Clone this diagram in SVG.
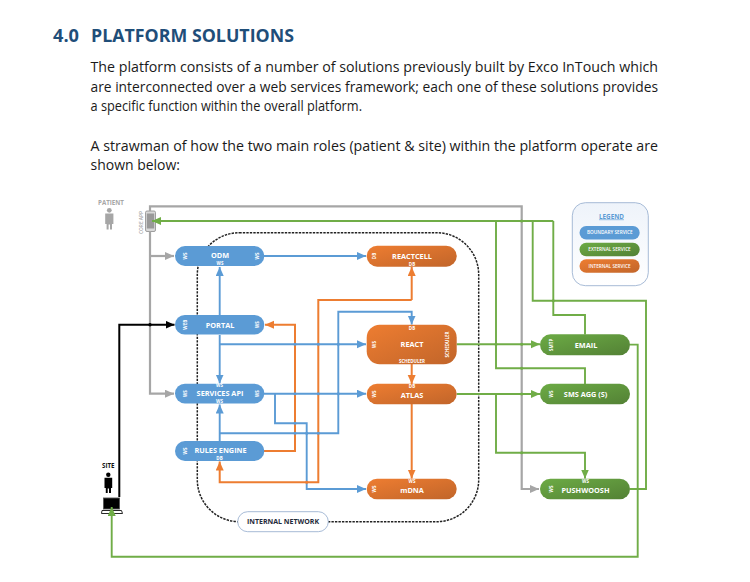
<svg xmlns="http://www.w3.org/2000/svg" width="750" height="582" viewBox="0 0 750 582">
<style>
text{font-family:"Open Sans","Noto Sans","Liberation Sans",sans-serif}
.h{font-size:18.5px;font-weight:700;fill:#1f4e79}
.b{font-size:14px;fill:#1a1a1a}
.c{fill:none;stroke-width:1.9}
.blue{stroke:#5b9bd5}.or{stroke:#ed7d31;stroke-width:2}.gr{stroke:#70ad47}.gy{stroke:#a6a6a6;stroke-width:2.2}.bk{stroke:#000;stroke-width:2}
.n{font-size:7.3px;font-weight:700;fill:#fff;text-anchor:middle}
.s{font-size:4.5px;font-weight:700;fill:#fff;text-anchor:middle}
.l{font-size:4.7px;font-weight:600;fill:#fff;text-anchor:middle}
.pb{fill:#5b9bd5}.po{fill:url(#go)}.pg{fill:url(#gg)}
.j{stroke:none}
</style>
<defs>
<linearGradient id="go" x1="0" y1="0" x2="1" y2="1"><stop offset="0" stop-color="#ee7d31"/><stop offset="1" stop-color="#c1652a"/></linearGradient>
<linearGradient id="gg" x1="0" y1="0" x2="1" y2="1"><stop offset="0" stop-color="#6cab45"/><stop offset="1" stop-color="#538135"/></linearGradient>
<linearGradient id="gl" x1="0" y1="0" x2="0" y2="1"><stop offset="0" stop-color="#eef3fa"/><stop offset="1" stop-color="#fff"/></linearGradient>
<marker id="ab" markerUnits="userSpaceOnUse" markerWidth="10" markerHeight="10" refX="9" refY="4" orient="auto-start-reverse"><path d="M0 0L9 4L0 8Z" fill="#5b9bd5"/></marker>
<marker id="ao" markerUnits="userSpaceOnUse" markerWidth="10" markerHeight="10" refX="9" refY="4" orient="auto-start-reverse"><path d="M0 0L9 4L0 8Z" fill="#ed7d31"/></marker>
<marker id="ag" markerUnits="userSpaceOnUse" markerWidth="10" markerHeight="10" refX="9" refY="4" orient="auto-start-reverse"><path d="M0 0L9 4L0 8Z" fill="#70ad47"/></marker>
<marker id="ay" markerUnits="userSpaceOnUse" markerWidth="10" markerHeight="10" refX="9" refY="4" orient="auto-start-reverse"><path d="M0 0L9 4L0 8Z" fill="#a6a6a6"/></marker>
<marker id="ak" markerUnits="userSpaceOnUse" markerWidth="10" markerHeight="10" refX="9" refY="4" orient="auto-start-reverse"><path d="M0 0L9 4L0 8Z" fill="#000"/></marker>
</defs>
<rect width="750" height="582" fill="#fff"/>
<g id="page-text">
<text class="h" x="53" y="41.5" textLength="26" lengthAdjust="spacingAndGlyphs">4.0</text>
<text class="h" x="91" y="41.5" textLength="203" lengthAdjust="spacingAndGlyphs">PLATFORM SOLUTIONS</text>
<text class="b" x="90.5" y="72" textLength="567.5" lengthAdjust="spacingAndGlyphs">The platform consists of a number of solutions previously built by Exco InTouch which</text>
<text class="b" x="90.5" y="91.5" textLength="567.5" lengthAdjust="spacingAndGlyphs">are interconnected over a web services framework; each one of these solutions provides</text>
<text class="b" x="90.5" y="111" textLength="271.5" lengthAdjust="spacingAndGlyphs">a specific function within the overall platform.</text>
<text class="b" x="90.5" y="150.5" textLength="567.5" lengthAdjust="spacingAndGlyphs">A strawman of how the two main roles (patient &amp; site) within the platform operate are</text>
<text class="b" x="90.5" y="170" textLength="89.5" lengthAdjust="spacingAndGlyphs">shown below:</text>
</g>
<g id="network-boundary">
<rect x="197.3" y="232.7" width="281.4" height="289" rx="42" fill="none" stroke="#222" stroke-width="1.5" stroke-dasharray="2.4 1.1"/>
</g>
<g id="patient"><text x="111" y="204.5" font-size="6.2" font-weight="700" fill="#a6a6a6" text-anchor="middle">PATIENT</text>
<circle cx="109.3" cy="210.3" r="2.4" fill="#a6a6a6"/><path d="M105.2 213.5H113.4V224H112V229.5H110V224.5H108.6V229.5H106.6V224H105.2Z" fill="#a6a6a6"/></g>
<g id="core-app"><text transform="translate(142.5 234) rotate(-90)" font-size="4.8" font-weight="600" fill="#a6a6a6">CORE APP</text>
<rect x="145.5" y="211" width="10" height="20.5" rx="1.5" fill="#d9d9d9" stroke="#8c8c8c" stroke-width="0.8"/><rect x="146.8" y="213.5" width="7.4" height="15" fill="#999"/></g>
<g id="site"><text x="108.3" y="467.5" font-size="6.2" font-weight="700" fill="#111" text-anchor="middle">SITE</text>
<circle cx="108.3" cy="474.7" r="2.2" fill="#000"/><path d="M104.5 477.8H112.2V488H111V493H109V488.5H107.7V493H105.8V488H104.5Z" fill="#000"/>
<rect x="103.5" y="498" width="16" height="11" fill="#000" stroke="#555" stroke-width="0.9"/><path d="M102 510.5H121.5L122.5 513.5H101.5Z" fill="#fff" stroke="#111" stroke-width="0.9"/></g>
<g id="connectors">
<path class="c gy" d="M150 231V393.7H174" marker-end="url(#ay)"/>
<path class="c gy" d="M150 256H174" marker-end="url(#ay)"/>
<path class="c gy" d="M150 211V206.3H521.7V489H539" marker-end="url(#ay)"/>
<path class="c bk" d="M119.3 497V324.7H174.5" marker-end="url(#ak)"/>
<path class="c blue" d="M264 256H366" marker-end="url(#ab)"/>
<path class="c blue" d="M219.7 315V267" marker-end="url(#ab)"/>
<path class="c blue" d="M219.7 335V383.5" marker-end="url(#ab)"/>
<path class="c blue" d="M219.7 344.3H366" marker-end="url(#ab)"/>
<path class="c blue" d="M264 393.7H366" marker-end="url(#ab)"/>
<path class="c blue" d="M275 393.7V423.3H306.7V489H366" marker-end="url(#ab)"/>
<path class="c blue" d="M219.7 441V404.5" marker-end="url(#ab)"/>
<path class="c blue" d="M219.7 433.3H338.3V311.7H411.7V324.5" marker-end="url(#ab)"/>
<path class="c or" d="M264 451H295V324.7H265" marker-end="url(#ao)"/>
<path class="c or" d="M411.7 300V267" marker-end="url(#ao)"/>
<path class="c or" d="M411.7 300H318.3V482.3H219.7V461.5" marker-end="url(#ao)"/>
<path class="c or" d="M411.7 364V384" marker-end="url(#ao)"/>
<path class="c or" d="M411.7 404V478.5" marker-end="url(#ao)"/>
<path class="c gr" d="M456.7 344.3H540" marker-end="url(#ag)"/>
<path class="c gr" d="M456.7 394H540" marker-end="url(#ag)"/>
<path class="c gr" d="M496 394V452.7H585V478.5" marker-end="url(#ag)"/>
<path class="c gr" d="M553.3 221H152" marker-end="url(#ag)"/>
<path class="c gr" d="M553.3 221V315H585V334.5"/>
<path class="c gr" d="M496 221V368.3H585V384"/>
<path class="c gr" d="M532.7 221V300.7H646V489H630"/>
<path class="c gr" d="M630 344.6H637.7V556.7H111.7V507" marker-end="url(#ag)"/>
<g class="j" fill="#5b9bd5"><circle cx="295" cy="344.3" r="1.5"/><circle cx="318.3" cy="344.3" r="1.5"/><circle cx="338.3" cy="344.3" r="1.5"/><circle cx="295" cy="393.7" r="1.5"/><circle cx="318.3" cy="393.7" r="1.5"/><circle cx="338.3" cy="393.7" r="1.5"/><circle cx="295" cy="423.3" r="1.5"/><circle cx="295" cy="433.3" r="1.5"/><circle cx="306.7" cy="433.3" r="1.5"/><circle cx="318.3" cy="433.3" r="1.5"/></g>
<circle class="j" cx="306.7" cy="482.3" r="1.5" fill="#ed7d31"/>
<circle class="j" cx="150" cy="324.7" r="1.7" fill="#000"/>
<g class="j" fill="#70ad47"><circle cx="521.7" cy="221" r="1.5"/><circle cx="553.3" cy="300.7" r="1.5"/><circle cx="496" cy="344.3" r="1.5"/><circle cx="521.7" cy="344.3" r="1.5"/><circle cx="521.7" cy="368.3" r="1.5"/><circle cx="521.7" cy="394" r="1.5"/><circle cx="521.7" cy="452.7" r="1.5"/></g>
</g>
<g id="odm"><rect class="pb" x="175" y="246" width="89.3" height="20" rx="10"/><text class="n" x="220" y="258.3">ODM</text><text class="s" x="220" y="265.2">WS</text><text class="s" transform="translate(185.5 256) rotate(-90)" y="1.7">WS</text><text class="s" transform="translate(257.5 256) rotate(-90)" y="1.7">WS</text></g>
<g id="portal"><rect class="pb" x="175" y="315" width="89.3" height="19.6" rx="9.8"/><text class="n" x="220" y="327.5">PORTAL</text><text class="s" transform="translate(185.5 324.7) rotate(-90)" y="1.7">WEB</text><text class="s" transform="translate(257.5 324.7) rotate(-90)" y="1.7">WS</text></g>
<g id="services-api"><rect class="pb" x="175" y="383.7" width="89.3" height="19.8" rx="9.9"/><text class="n" x="220" y="396">SERVICES API</text><text class="s" x="219.5" y="387.3">WS</text><text class="s" x="219.5" y="402.8">WS</text><text class="s" transform="translate(185.5 393.7) rotate(-90)" y="1.7">WS</text><text class="s" transform="translate(257.5 393.7) rotate(-90)" y="1.7">WS</text></g>
<g id="rules-engine"><rect class="pb" x="175" y="441" width="89.3" height="20" rx="10"/><text class="n" x="220.5" y="453.3">RULES ENGINE</text><text class="s" x="219.5" y="460.2">DB</text><text class="s" transform="translate(185.5 451) rotate(-90)" y="1.7">WS</text></g>
<g id="reactcell"><rect class="po" x="366.7" y="245.7" width="90" height="21" rx="10.5"/><text class="n" x="412" y="258.5">REACTCELL</text><text class="s" x="412" y="265.5">DB</text><text class="s" transform="translate(374.5 256) rotate(-90)" y="1.7">DB</text></g>
<g id="react"><rect class="po" x="366.7" y="324.7" width="90" height="39.6" rx="13"/><text class="n" x="412" y="347">REACT</text><text class="s" x="412" y="329.5">DB</text><text class="s" x="412" y="363">SCHEDULER</text><text class="s" transform="translate(374.5 344.5) rotate(-90)" y="1.7">WS</text><text class="s" transform="translate(447 344.5) rotate(-90)" y="1.7">SCHEDULER</text></g>
<g id="atlas"><rect class="po" x="366.7" y="383.7" width="90" height="20.6" rx="10.3"/><text class="n" x="412" y="398">ATLAS</text><text class="s" x="412" y="388">DB</text><text class="s" transform="translate(374.5 394) rotate(-90)" y="1.7">WS</text></g>
<g id="mdna"><rect class="po" x="366.7" y="478.7" width="90" height="20.6" rx="10.3"/><text class="n" x="412" y="493">mDNA</text><text class="s" x="412" y="483.2">WS</text><text class="s" transform="translate(374.5 489) rotate(-90)" y="1.7">WS</text></g>
<g id="email"><rect class="pg" x="540" y="334.3" width="90" height="21" rx="10.5"/><text class="n" x="586" y="347.5">EMAIL</text><text class="s" transform="translate(551 344.8) rotate(-90)" y="1.7">SMTP</text></g>
<g id="sms-agg"><rect class="pg" x="540" y="383.7" width="90" height="20.6" rx="10.3"/><text class="n" x="585.5" y="397">SMS AGG (S)</text><text class="s" transform="translate(551 394) rotate(-90)" y="1.7">WS</text></g>
<g id="pushwoosh"><rect class="pg" x="540" y="478.7" width="90" height="20.6" rx="10.3"/><text class="n" x="585.5" y="493">PUSHWOOSH</text><text class="s" x="585.5" y="483.2">WS</text><text class="s" transform="translate(551 489) rotate(-90)" y="1.7">WS</text></g>
<g id="internal-network"><rect x="237.7" y="511.7" width="90.6" height="20" rx="10" fill="#fff" stroke="#9db3d1" stroke-width="0.9"/><text x="283" y="524.3" font-size="7" font-weight="700" fill="#1f2a3a" text-anchor="middle">INTERNAL NETWORK</text></g>
<g id="legend"><rect x="572.3" y="202.7" width="76" height="83" rx="13" fill="url(#gl)" stroke="#9db3d1" stroke-width="0.9"/>
<text x="611.5" y="218.5" font-size="6.3" font-weight="700" fill="#5b9bd5" text-anchor="middle" text-decoration="underline">LEGEND</text>
<rect class="pb" x="579.5" y="226" width="60.2" height="13.5" rx="6.7"/><text class="l" x="609.8" y="234.4">BOUNDARY SERVICE</text>
<rect class="pg" x="579.5" y="242.7" width="60.2" height="13.5" rx="6.7"/><text class="l" x="609.5" y="251.1">EXTERNAL SERVICE</text>
<rect class="po" x="579.5" y="259.3" width="60.2" height="13.5" rx="6.7"/><text class="l" x="609.5" y="267.7">INTERNAL SERVICE</text></g>
</svg>
